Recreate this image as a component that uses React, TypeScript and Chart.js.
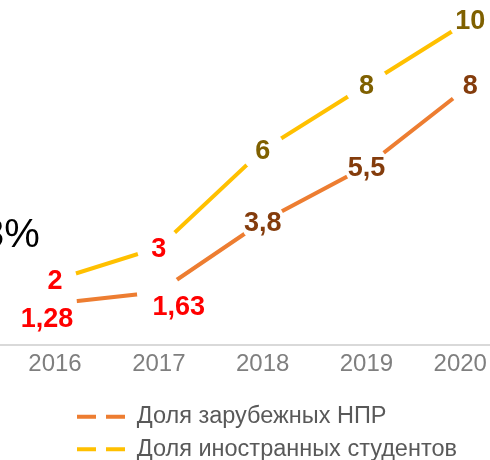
import React, { useEffect, useRef } from "react";
import { Chart, registerables } from "chart.js";

Chart.register(...registerables);

// ---- data ----
const YEARS = ["2016", "2017", "2018", "2019", "2020"];
const STAFF_SHARE = [1.28, 1.63, 3.8, 5.5, 8];
const STUDENT_SHARE = [2, 3, 6, 8, 10];
const SERIES_NAMES = ["Доля зарубежных НПР", "Доля иностранных студентов"];
const SIDE_NOTE = "3%";

// ---- styles ----
const FONT = '"Liberation Sans", Arial, sans-serif';
const SERIES_COLORS = ["#ed7d31", "#ffc000"];
const LABEL_DARK = ["#843c0c", "#7f6000"];
const LABEL_RED = "#ff0000";
const RED_LABEL_COUNT = 2;
const LABEL_SHIFT = [
  [[-8, 14], [20, 14], [0, 0], [0, 0], [0, 0]],
  [[0, 0], [0, 0], [0, 0], [0, 0], [0, 0]],
];

const fmt = (v: number) => String(v).replace(".", ",");

const pointLabels = {
  id: "pointLabels",
  afterDatasetsDraw(chart: any) {
    const ctx = chart.ctx;
    ctx.save();
    ctx.font = `bold 27px ${FONT}`;
    ctx.textAlign = "center";
    ctx.textBaseline = "middle";
    chart.data.datasets.forEach((ds: any, di: number) => {
      const meta = chart.getDatasetMeta(di);
      meta.data.forEach((pt: any, i: number) => {
        const [dx, dy] = LABEL_SHIFT[di][i];
        ctx.fillStyle = i < RED_LABEL_COUNT ? LABEL_RED : LABEL_DARK[di];
        ctx.fillText(fmt(ds.data[i].y), pt.x + dx, pt.y + dy + 2);
      });
    });
    ctx.restore();
  },
};

const legendShift = {
  id: "legendShift",
  afterLayout(chart: any) {
    if (chart.legend) chart.legend.left += 68;
  },
};

export default function App() {
  const ref = useRef<HTMLCanvasElement>(null);

  useEffect(() => {
    const canvas = ref.current;
    if (!canvas) return;
    const mk = (vals: number[]) => vals.map((v, i) => ({ x: i, y: v }));
    const chart = new Chart(canvas, {
      type: "line",
      data: {
        datasets: [
          {
            label: SERIES_NAMES[0],
            data: mk(STAFF_SHARE),
            borderColor: SERIES_COLORS[0],
            backgroundColor: SERIES_COLORS[0],
            borderWidth: 4,
            pointRadius: 22,
            pointHoverRadius: 22,
            pointBackgroundColor: "#ffffff",
            pointBorderWidth: 0,
            pointBorderColor: "rgba(0,0,0,0)",
            tension: 0,
            clip: false as any,
          },
          {
            label: SERIES_NAMES[1],
            data: mk(STUDENT_SHARE),
            borderColor: SERIES_COLORS[1],
            backgroundColor: SERIES_COLORS[1],
            borderWidth: 4,
            pointRadius: 22,
            pointHoverRadius: 22,
            pointBackgroundColor: "#ffffff",
            pointBorderWidth: 0,
            pointBorderColor: "rgba(0,0,0,0)",
            tension: 0,
            clip: false as any,
          },
        ],
      },
      options: {
        animation: false,
        responsive: false,
        events: [],
        layout: { padding: 0, autoPadding: false },
        scales: {
          x: {
            type: "linear",
            min: -0.53,
            max: 4.19,
            grid: { display: false, drawTicks: false },
            border: { display: true, color: "#d9d9d9", width: 2 },
            afterBuildTicks: (scale: any) => {
              scale.ticks = YEARS.map((_, i) => ({ value: i }));
            },
            afterFit: (scale: any) => {
              scale.height = 51;
              scale.paddingLeft = 0;
              scale.paddingRight = 0;
            },
            ticks: {
              autoSkip: false,
              maxRotation: 0,
              padding: 5,
              color: "#7f7f7f",
              font: { family: FONT, size: 24 },
              callback: (v: any, i: number) =>
                YEARS[v] + (i === YEARS.length - 1 ? "   " : ""),
            },
          },
          y: {
            display: false,
            min: 0,
            max: 10.615,
          },
        },
        plugins: {
          tooltip: { enabled: false },
          legend: {
            position: "bottom",
            align: "start",
            labels: {
              usePointStyle: true,
              pointStyleWidth: 48,
              padding: 9,
              color: "#595959",
              font: { family: FONT, size: 23.5 },
              generateLabels: (c: any) =>
                c.data.datasets.map((ds: any, i: number) => ({
                  text: ds.label,
                  fillStyle: ds.borderColor,
                  strokeStyle: ds.borderColor,
                  fontColor: "#595959",
                  lineWidth: 4,
                  lineDash: [19, 10],
                  lineCap: "butt",
                  pointStyle: "line",
                  hidden: false,
                  datasetIndex: i,
                })),
            },
          },
        },
      },
      plugins: [pointLabels, legendShift],
    });
    return () => chart.destroy();
  }, []);

  return (
    <div
      style={{
        position: "absolute",
        left: 0,
        top: 0,
        width: 490,
        height: 460,
        overflow: "hidden",
        background: "#ffffff",
      }}
    >
      <canvas
        ref={ref}
        width={490}
        height={471}
        style={{ display: "block", width: 490, height: 471 }}
      />
      <span
        style={{
          position: "absolute",
          left: -18,
          top: 213,
          font: `40px ${FONT}`,
          lineHeight: "40px",
          color: "#000000",
          whiteSpace: "nowrap",
        }}
      >
        {SIDE_NOTE}
      </span>
    </div>
  );
}
